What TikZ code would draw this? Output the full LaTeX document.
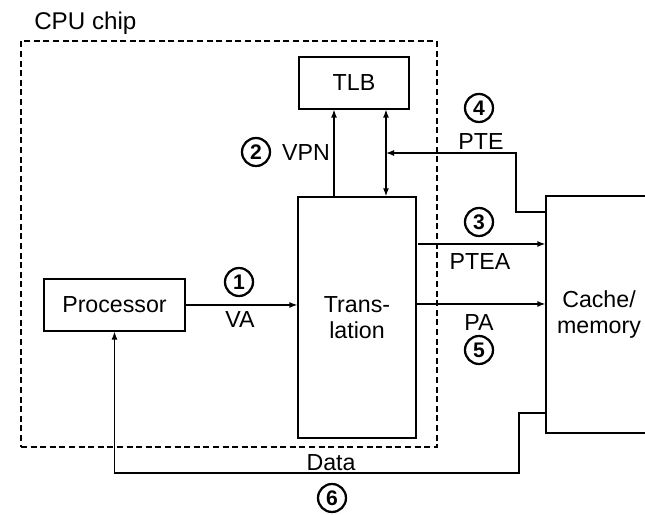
\documentclass[tikz,border=0pt]{standalone}
\usepackage{fontspec}
\setmainfont{Liberation Sans}
\usepackage{tikz}
\usetikzlibrary{arrows.meta}
\tikzstyle{unit}=[draw,line width=0.9pt,inner sep=0,align=center,font=\fontsize{16.5}{18.5}\selectfont]
\tikzstyle{chipbox}=[draw,line width=0.9pt,dash pattern=on 1.5mm off 0.9mm,inner sep=0]
\tikzstyle{num}=[circle,draw,line width=1.6pt,minimum size=0.7cm,inner sep=0,font=\fontsize{15}{15}\selectfont\bfseries]
\tikzstyle{lbl}=[inner sep=0,font=\fontsize{16.5}{18.5}\selectfont]
\tikzstyle{wire}=[line width=0.9pt,-{Latex[length=2mm,width=1.5mm]}]
\begin{document}
\begin{tikzpicture}
		\useasboundingbox (0,0) rectangle (16.125,12.875);
% chip outline
		\node[chipbox,minimum width=10.4cm,minimum height=10.15cm](chip) at (5.725,6.775){};
		\node[lbl,anchor=west,font=\fontsize{17.2}{19}\selectfont](chiplbl) at (0.85,12.3){CPU chip};
% units
		\node[unit,minimum width=2.75cm,minimum height=1.3cm](tlb) at (8.85,10.8){TLB};
		\node[unit,minimum width=2.95cm,minimum height=6.025cm](trans) at (8.925,4.94){Trans-\\lation};
		\node[unit,minimum width=3.525cm,minimum height=1.3cm](proc) at (2.8625,5.25){Processor};
		\node[unit,minimum width=2.65cm,minimum height=5.925cm](mem) at (14.975,5.0125){Cache/\\memory};
% helper points
		\coordinate (vpnx) at (8.35,0);
		\coordinate (tlbx) at (9.65,0);
		\coordinate (pte1) at (12.9,7.575);
		\coordinate (pte2) at (12.9,9.05);
		\coordinate (ptea) at (10.45,6.775);
		\coordinate (pa) at (10.4,5.275);
		\coordinate (dat1) at (12.975,2.55);
		\coordinate (dat2) at (12.975,1.05);
		\coordinate (dat3) at (2.8625,1.05);
% VA
		\draw[wire] (proc.east) -- (trans.west |- proc.east);
		\node[num](n1) at (5.975,5.825){1};
		\node[lbl](lva) at (6.0,4.875){VA};
% VPN
		\draw[wire] (trans.north -| vpnx) -- (tlb.south -| vpnx);
		\node[num](n2) at (6.4,9.075){2};
		\node[lbl](lvpn) at (7.65,9.05){VPN};
% TLB to translation
		\draw[line width=0.9pt,{Latex[length=2mm,width=1.5mm]}-{Latex[length=2mm,width=1.5mm]}] (tlb.south -| tlbx) -- (trans.north -| tlbx);
% PTEA
		\draw[wire] (ptea) -- (mem.west |- ptea);
		\node[num](n3) at (11.975,7.325){3};
		\node[lbl](lptea) at (12.0,6.325){PTEA};
% PTE
		\draw[wire] (mem.west |- pte1) -- (pte1) -- (pte2) -- (pte2 -| tlbx);
		\node[num](n4) at (11.975,10.175){4};
		\node[lbl](lpte) at (12.025,9.325){PTE};
% PA
		\draw[wire] (pa) -- (mem.west |- pa);
		\node[lbl](lpa) at (11.975,4.8){PA};
		\node[num](n5) at (11.975,4.125){5};
% Data
		\draw[wire] (mem.west |- dat1) -- (dat1) -- (dat2) -- (dat3) -- (proc.south);
		\node[lbl](ldata) at (8.275,1.3){Data};
		\node[num](n6) at (8.3,0.425){6};
	\end{tikzpicture}
\end{document}
